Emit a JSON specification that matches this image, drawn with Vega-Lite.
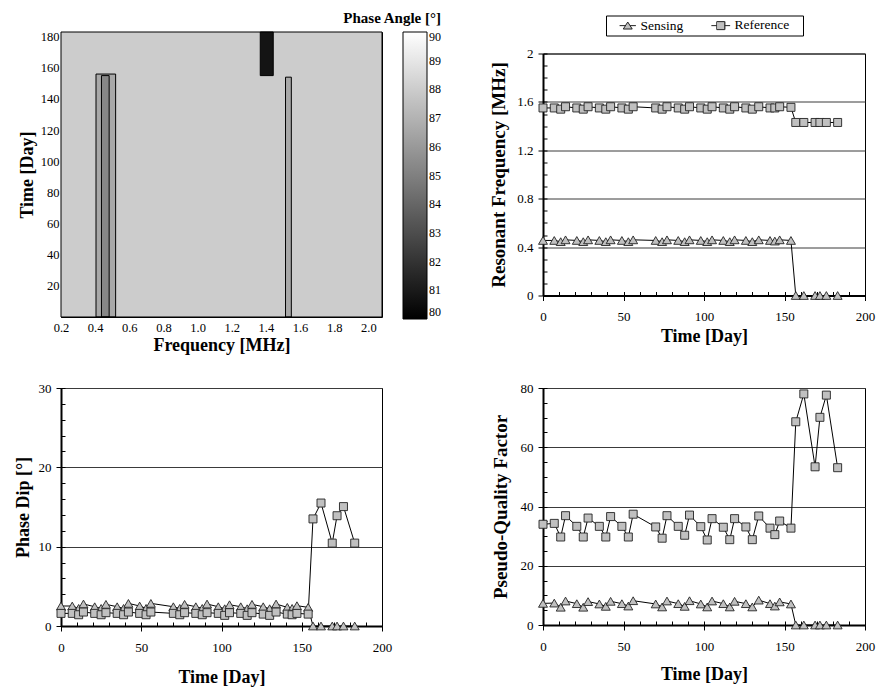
{
  "$schema": "https://vega.github.io/schema/vega-lite/v6.json",
  "background": "white",
  "padding": {"left": 13, "top": 11, "right": 4, "bottom": 4},
  "bounds": "flush",
  "center": true,
  "columns": 2,
  "spacing": {"row": 71, "column": 161},
  "config": {
    "view": {"stroke": "black", "strokeWidth": 1},
    "axis": {
      "labelFontSize": 13, "labelColor": "black", "labelFont": "Liberation Serif",
      "titleFont": "Liberation Serif", "titleFontSize": 18, "titleFontWeight": "bold", "titleColor": "black",
      "domainColor": "black", "tickColor": "black", "tickWidth": 1, "gridColor": "#3a3a3a", "gridWidth": 1,
      "labelOverlap": false, "labelFlush": false, "labelBound": false
    }
  },
  "datasets": {
    "contour": [
      {"f0": 0.2, "f1": 2.08, "t0": 0, "t1": 183, "v": 88},
      {"f0": 0.405, "f1": 0.52, "t0": 0, "t1": 156, "v": 86.6},
      {"f0": 0.437, "f1": 0.482, "t0": 0, "t1": 155, "v": 85.3},
      {"f0": 1.515, "f1": 1.549, "t0": 0, "t1": 154, "v": 86.6},
      {"f0": 1.367, "f1": 1.443, "t0": 155, "t1": 183, "v": 80.8}
    ],
    "series": [
      {"t": 0, "s": "Sensing", "f": 0.455, "d": 2.52, "q": 7.3},
      {"t": 7, "s": "Sensing", "f": 0.455, "d": 2.52, "q": 7.4},
      {"t": 11, "s": "Sensing", "f": 0.445, "d": 2.22, "q": 6.0},
      {"t": 14, "s": "Sensing", "f": 0.46, "d": 2.77, "q": 8.1},
      {"t": 21, "s": "Sensing", "f": 0.455, "d": 2.43, "q": 7.2},
      {"t": 25, "s": "Sensing", "f": 0.445, "d": 2.22, "q": 6.0},
      {"t": 28, "s": "Sensing", "f": 0.46, "d": 2.73, "q": 7.9},
      {"t": 35, "s": "Sensing", "f": 0.455, "d": 2.43, "q": 7.1},
      {"t": 39, "s": "Sensing", "f": 0.445, "d": 2.22, "q": 6.3},
      {"t": 42, "s": "Sensing", "f": 0.46, "d": 2.85, "q": 8.0},
      {"t": 49, "s": "Sensing", "f": 0.455, "d": 2.52, "q": 7.2},
      {"t": 53, "s": "Sensing", "f": 0.445, "d": 2.22, "q": 6.4},
      {"t": 56, "s": "Sensing", "f": 0.46, "d": 2.85, "q": 8.2},
      {"t": 70, "s": "Sensing", "f": 0.455, "d": 2.43, "q": 7.1},
      {"t": 74, "s": "Sensing", "f": 0.445, "d": 2.22, "q": 6.1},
      {"t": 77, "s": "Sensing", "f": 0.46, "d": 2.73, "q": 8.1},
      {"t": 84, "s": "Sensing", "f": 0.455, "d": 2.43, "q": 7.2},
      {"t": 88, "s": "Sensing", "f": 0.445, "d": 2.22, "q": 6.3},
      {"t": 91, "s": "Sensing", "f": 0.46, "d": 2.77, "q": 8.2},
      {"t": 98, "s": "Sensing", "f": 0.455, "d": 2.43, "q": 7.1},
      {"t": 102, "s": "Sensing", "f": 0.445, "d": 2.18, "q": 6.1},
      {"t": 105, "s": "Sensing", "f": 0.46, "d": 2.68, "q": 8.1},
      {"t": 112, "s": "Sensing", "f": 0.455, "d": 2.43, "q": 7.2},
      {"t": 116, "s": "Sensing", "f": 0.445, "d": 2.18, "q": 6.1},
      {"t": 119, "s": "Sensing", "f": 0.46, "d": 2.73, "q": 8.0},
      {"t": 126, "s": "Sensing", "f": 0.455, "d": 2.43, "q": 7.2},
      {"t": 130, "s": "Sensing", "f": 0.445, "d": 2.18, "q": 6.1},
      {"t": 134, "s": "Sensing", "f": 0.46, "d": 2.77, "q": 8.4},
      {"t": 141, "s": "Sensing", "f": 0.455, "d": 2.35, "q": 7.2},
      {"t": 144, "s": "Sensing", "f": 0.45, "d": 2.22, "q": 6.4},
      {"t": 147, "s": "Sensing", "f": 0.46, "d": 2.56, "q": 7.8},
      {"t": 154, "s": "Sensing", "f": 0.455, "d": 2.35, "q": 7.1},
      {"t": 157, "s": "Sensing", "f": 0, "d": 0, "q": 0},
      {"t": 162, "s": "Sensing", "f": 0, "d": 0, "q": 0},
      {"t": 169, "s": "Sensing", "f": 0, "d": 0, "q": 0},
      {"t": 172, "s": "Sensing", "f": 0, "d": 0, "q": 0},
      {"t": 176, "s": "Sensing", "f": 0, "d": 0, "q": 0},
      {"t": 183, "s": "Sensing", "f": 0, "d": 0, "q": 0},
      {"t": 0, "s": "Reference", "f": 1.55, "d": 1.59, "q": 34.0},
      {"t": 7, "s": "Reference", "f": 1.55, "d": 1.59, "q": 34.3},
      {"t": 11, "s": "Reference", "f": 1.54, "d": 1.42, "q": 29.7},
      {"t": 14, "s": "Reference", "f": 1.56, "d": 1.76, "q": 36.9},
      {"t": 21, "s": "Reference", "f": 1.55, "d": 1.59, "q": 33.3},
      {"t": 25, "s": "Reference", "f": 1.54, "d": 1.42, "q": 29.7},
      {"t": 28, "s": "Reference", "f": 1.56, "d": 1.68, "q": 36.1},
      {"t": 35, "s": "Reference", "f": 1.55, "d": 1.59, "q": 33.3},
      {"t": 39, "s": "Reference", "f": 1.54, "d": 1.42, "q": 29.7},
      {"t": 42, "s": "Reference", "f": 1.56, "d": 1.76, "q": 36.6},
      {"t": 49, "s": "Reference", "f": 1.55, "d": 1.59, "q": 33.3},
      {"t": 53, "s": "Reference", "f": 1.54, "d": 1.42, "q": 29.7},
      {"t": 56, "s": "Reference", "f": 1.56, "d": 1.76, "q": 37.4},
      {"t": 70, "s": "Reference", "f": 1.55, "d": 1.59, "q": 33.1},
      {"t": 74, "s": "Reference", "f": 1.54, "d": 1.42, "q": 29.3},
      {"t": 77, "s": "Reference", "f": 1.56, "d": 1.68, "q": 36.9},
      {"t": 84, "s": "Reference", "f": 1.55, "d": 1.59, "q": 33.3},
      {"t": 88, "s": "Reference", "f": 1.54, "d": 1.42, "q": 30.3},
      {"t": 91, "s": "Reference", "f": 1.56, "d": 1.68, "q": 37.1},
      {"t": 98, "s": "Reference", "f": 1.55, "d": 1.59, "q": 33.2},
      {"t": 102, "s": "Reference", "f": 1.54, "d": 1.34, "q": 28.7},
      {"t": 105, "s": "Reference", "f": 1.56, "d": 1.68, "q": 35.9},
      {"t": 112, "s": "Reference", "f": 1.55, "d": 1.59, "q": 33.0},
      {"t": 116, "s": "Reference", "f": 1.54, "d": 1.34, "q": 28.8},
      {"t": 119, "s": "Reference", "f": 1.56, "d": 1.68, "q": 35.9},
      {"t": 126, "s": "Reference", "f": 1.55, "d": 1.5, "q": 33.1},
      {"t": 130, "s": "Reference", "f": 1.54, "d": 1.34, "q": 28.8},
      {"t": 134, "s": "Reference", "f": 1.56, "d": 1.76, "q": 36.8},
      {"t": 141, "s": "Reference", "f": 1.55, "d": 1.5, "q": 32.7},
      {"t": 144, "s": "Reference", "f": 1.55, "d": 1.42, "q": 30.5},
      {"t": 147, "s": "Reference", "f": 1.56, "d": 1.59, "q": 35.1},
      {"t": 154, "s": "Reference", "f": 1.555, "d": 1.5, "q": 32.7},
      {"t": 157, "s": "Reference", "f": 1.43, "d": 13.5, "q": 68.6},
      {"t": 162, "s": "Reference", "f": 1.43, "d": 15.5, "q": 78.0},
      {"t": 169, "s": "Reference", "f": 1.43, "d": 10.45, "q": 53.4},
      {"t": 172, "s": "Reference", "f": 1.43, "d": 13.9, "q": 70.1},
      {"t": 176, "s": "Reference", "f": 1.43, "d": 15.05, "q": 77.6},
      {"t": 183, "s": "Reference", "f": 1.43, "d": 10.45, "q": 53.1}
    ]
  },
  "concat": [
    {
      "width": 321, "height": 285,
      "data": {"name": "contour"},
      "layer": [
        {
          "mark": {"type": "rect", "strokeWidth": 0},
          "encoding": {
            "x": {"field": "f0", "type": "quantitative", "scale": {"domain": [0.2, 2.08], "nice": false, "zero": false},
              "axis": {"title": "Frequency [MHz]", "values": [0.2, 0.4, 0.6, 0.8, 1.0, 1.2, 1.4, 1.6, 1.8, 2.0], "format": ".1f", "tickSize": -5, "labelPadding": 9, "titlePadding": 3, "domain": false, "grid": false, "labelFontSize": 12.5}},
            "x2": {"field": "f1"},
            "y": {"field": "t0", "type": "quantitative", "scale": {"domain": [0, 183], "nice": false, "zero": false},
              "axis": {"title": "Time [Day]", "values": [20, 40, 60, 80, 100, 120, 140, 160, 180], "tickSize": -5, "labelPadding": 7, "titlePadding": 4, "domain": false, "grid": false, "labelFontSize": 12.5}},
            "y2": {"field": "t1"},
            "color": {"field": "v", "type": "quantitative",
              "scale": {"domain": [80, 90], "range": ["#000000", "#ffffff"], "interpolate": "rgb"},
              "legend": {"orient": "none", "legendX": 282, "legendY": -21, "direction": "vertical", "title": "Phase Angle [°]",
                "titleFontSize": 15, "titleFontWeight": "bold", "titleColor": "black", "titleFont": "Liberation Serif", "titleAnchor": "end", "titleAlign": "right", "titlePadding": 6,
                "gradientLength": 287, "gradientThickness": 24, "gradientStrokeColor": "black", "gradientStrokeWidth": 1,
                "values": [80, 81, 82, 83, 84, 85, 86, 87, 88, 89, 90], "labelFont": "Liberation Serif", "labelFontSize": 12, "labelColor": "black", "labelOffset": 2, "labelOverlap": false, "padding": 0}}
          }
        },
        {
          "mark": {"type": "rect", "fill": "white", "fillOpacity": 0, "stroke": "black", "strokeWidth": 1},
          "encoding": {
            "x": {"field": "f0", "type": "quantitative", "axis": {"orient": "top", "title": null, "labels": false, "values": [0.2, 0.4, 0.6, 0.8, 1.0, 1.2, 1.4, 1.6, 1.8, 2.0], "tickSize": -5, "domain": false, "grid": false}},
            "x2": {"field": "f1"},
            "y": {"field": "t0", "type": "quantitative", "axis": {"orient": "right", "title": null, "labels": false, "values": [20, 40, 60, 80, 100, 120, 140, 160, 180], "tickSize": -5, "domain": false, "grid": false}},
            "y2": {"field": "t1"}
          }
        }
      ],
      "resolve": {"axis": {"x": "independent", "y": "independent"}}
    },
    {
      "width": 322, "height": 242,
      "data": {"name": "series"},
      "layer": [
        {
          "mark": {"type": "line", "color": "black", "strokeWidth": 1},
          "encoding": {
            "x": {"field": "t", "type": "quantitative", "scale": {"domain": [0, 200], "nice": false},
              "axis": {"title": "Time [Day]", "values": [0, 50, 100, 150, 200], "format": "d", "tickSize": 5,
                "grid": false, "domainWidth": 2, "labelPadding": 10, "titlePadding": 4}},
            "y": {"field": "f", "type": "quantitative", "scale": {"domain": [0, 2], "nice": false},
              "axis": {"title": "Resonant Frequency [MHz]", "titleFontSize": 19, "format": "~g",
                "values": [0, 0.4, 0.8, 1.2, 1.6, 2], "tickSize": 5, "grid": true,
                "domainWidth": 2, "labelPadding": 5, "titlePadding": 8}},
            "detail": {"field": "s", "type": "nominal"}
          }
        },
        {
          "mark": {"type": "point", "filled": true, "fill": "#c0c0c0", "stroke": "#222222", "strokeWidth": 0.9, "opacity": 1},
          "encoding": {
            "x": {"field": "t", "type": "quantitative",
              "axis": {"orient": "bottom", "title": null, "labels": false, "domain": false, "grid": false, "tickSize": -4, "values": [0, 10, 20, 30, 40, 50, 60, 70, 80, 90, 100, 110, 120, 130, 140, 150, 160, 170, 180, 190, 200]}},
            "y": {"field": "f", "type": "quantitative",
              "axis": {"orient": "left", "title": null, "labels": false, "domain": false, "grid": false, "tickSize": -4, "values": [0, 0.1, 0.2, 0.3, 0.4, 0.5, 0.6, 0.7, 0.8, 0.9, 1.0, 1.1, 1.2, 1.3, 1.4, 1.5, 1.6, 1.7, 1.8, 1.9, 2.0]}},
            "shape": {"field": "s", "type": "nominal", "scale": {"domain": ["Sensing", "Reference"], "range": ["triangle-up", "square"]}, "legend": null},
            "size": {"field": "s", "type": "nominal", "scale": {"domain": ["Sensing", "Reference"], "range": [80, 64]}, "legend": null}
          }
        },
        {
          "transform": [{"filter": "datum.t < 0"}],
          "mark": {"type": "point", "filled": true, "color": "#c0c0c0", "opacity": 1, "size": 64},
          "encoding": {
            "x": {"field": "t", "type": "quantitative", "axis": null},
            "y": {"field": "f", "type": "quantitative", "axis": null},
            "shape": {"field": "s", "type": "nominal",
              "scale": {"domain": ["Sensing", "Reference"], "range": ["M-2.04,0L-0.58,0M0.58,0L2.04,0M0,-0.9L1.12,0.85L-1.12,0.85Z", "M18.8,0M-2.35,0L-1,0M1,0L2.35,0M-1,-1L1,-1L1,1L-1,1Z"]},
              "legend": {"orient": "none", "legendX": 63, "legendY": -38, "direction": "horizontal", "title": " ", "titleOrient": "left", "titleFontSize": 13.5, "titlePadding": 12,
                "symbolSize": 64, "symbolOpacity": 1, "symbolFillColor": "#c0c0c0",
                "labelFont": "Liberation Serif", "labelFontSize": 13.5, "labelColor": "black", "labelOffset": 6, "columnPadding": 25, "padding": 3,
                "strokeColor": "black"}}
          }
        },
        {
          "transform": [{"filter": "datum.t < 0"}],
          "mark": {"type": "point", "filled": false, "color": "#222222", "strokeWidth": 1, "opacity": 1, "size": 64},
          "encoding": {
            "x": {"field": "t", "type": "quantitative", "axis": null},
            "y": {"field": "f", "type": "quantitative", "axis": null},
            "shape": {"field": "s", "type": "nominal",
              "scale": {"domain": ["Sensing", "Reference"], "range": ["M-2.04,0L-0.58,0M0.58,0L2.04,0M0,-0.9L1.12,0.85L-1.12,0.85Z", "M18.8,0M-2.35,0L-1,0M1,0L2.35,0M-1,-1L1,-1L1,1L-1,1Z"]},
              "legend": {"orient": "none", "legendX": 63, "legendY": -38, "direction": "horizontal", "title": " ", "titleOrient": "left", "titleFontSize": 13.5, "titlePadding": 12,
                "symbolSize": 64, "symbolOpacity": 1, "symbolStrokeColor": "#222222", "symbolStrokeWidth": 1,
                "labelFont": "Liberation Serif", "labelFontSize": 13.5, "labelColor": "black", "labelOpacity": 0, "labelOffset": 6, "columnPadding": 25, "padding": 3}}
          }
        }
      ],
      "resolve": {"scale": {"shape": "independent"}, "axis": {"x": "independent", "y": "independent"}}
    },
    {
      "width": 321, "height": 238,
      "data": {"name": "series"},
      "layer": [
        {
          "mark": {"type": "line", "color": "black", "strokeWidth": 1},
          "encoding": {
            "x": {"field": "t", "type": "quantitative", "scale": {"domain": [0, 200], "nice": false},
              "axis": {"title": "Time [Day]", "values": [0, 50, 100, 150, 200], "format": "d", "tickSize": 5,
                "grid": false, "domainWidth": 2, "labelPadding": 10, "titlePadding": 14}},
            "y": {"field": "d", "type": "quantitative", "scale": {"domain": [0, 30], "nice": false},
              "axis": {"title": "Phase Dip [°]", "format": "d",
                "values": [0, 10, 20, 30], "tickSize": 5, "grid": true,
                "domainWidth": 2, "labelPadding": 5, "titlePadding": 6}},
            "detail": {"field": "s", "type": "nominal"}
          }
        },
        {
          "mark": {"type": "point", "filled": true, "fill": "#c0c0c0", "stroke": "#222222", "strokeWidth": 0.9, "opacity": 1},
          "encoding": {
            "x": {"field": "t", "type": "quantitative",
              "axis": {"orient": "bottom", "title": null, "labels": false, "domain": false, "grid": false, "tickSize": -4, "values": [0, 10, 20, 30, 40, 50, 60, 70, 80, 90, 100, 110, 120, 130, 140, 150, 160, 170, 180, 190, 200]}},
            "y": {"field": "d", "type": "quantitative",
              "axis": {"orient": "left", "title": null, "labels": false, "domain": false, "grid": false, "tickSize": -4, "values": [0, 2, 4, 6, 8, 10, 12, 14, 16, 18, 20, 22, 24, 26, 28, 30]}},
            "shape": {"field": "s", "type": "nominal", "scale": {"domain": ["Sensing", "Reference"], "range": ["triangle-up", "square"]}, "legend": null},
            "size": {"field": "s", "type": "nominal", "scale": {"domain": ["Sensing", "Reference"], "range": [80, 64]}, "legend": null}
          }
        }
      ],
      "resolve": {"axis": {"x": "independent", "y": "independent"}}
    },
    {
      "width": 322, "height": 237,
      "data": {"name": "series"},
      "layer": [
        {
          "mark": {"type": "line", "color": "black", "strokeWidth": 1},
          "encoding": {
            "x": {"field": "t", "type": "quantitative", "scale": {"domain": [0, 200], "nice": false},
              "axis": {"title": "Time [Day]", "values": [0, 50, 100, 150, 200], "format": "d", "tickSize": 5,
                "grid": false, "domainWidth": 2, "labelPadding": 10, "titlePadding": 12}},
            "y": {"field": "q", "type": "quantitative", "scale": {"domain": [0, 80], "nice": false},
              "axis": {"title": "Pseudo-Quality Factor", "titleFontSize": 19, "format": "d",
                "values": [0, 20, 40, 60, 80], "tickSize": 5, "grid": true,
                "domainWidth": 2, "labelPadding": 5, "titlePadding": 10}},
            "detail": {"field": "s", "type": "nominal"}
          }
        },
        {
          "mark": {"type": "point", "filled": true, "fill": "#c0c0c0", "stroke": "#222222", "strokeWidth": 0.9, "opacity": 1},
          "encoding": {
            "x": {"field": "t", "type": "quantitative",
              "axis": {"orient": "bottom", "title": null, "labels": false, "domain": false, "grid": false, "tickSize": -4, "values": [0, 10, 20, 30, 40, 50, 60, 70, 80, 90, 100, 110, 120, 130, 140, 150, 160, 170, 180, 190, 200]}},
            "y": {"field": "q", "type": "quantitative",
              "axis": {"orient": "left", "title": null, "labels": false, "domain": false, "grid": false, "tickSize": -4, "values": [0, 5, 10, 15, 20, 25, 30, 35, 40, 45, 50, 55, 60, 65, 70, 75, 80]}},
            "shape": {"field": "s", "type": "nominal", "scale": {"domain": ["Sensing", "Reference"], "range": ["triangle-up", "square"]}, "legend": null},
            "size": {"field": "s", "type": "nominal", "scale": {"domain": ["Sensing", "Reference"], "range": [80, 64]}, "legend": null}
          }
        }
      ],
      "resolve": {"axis": {"x": "independent", "y": "independent"}}
    }
  ]
}
